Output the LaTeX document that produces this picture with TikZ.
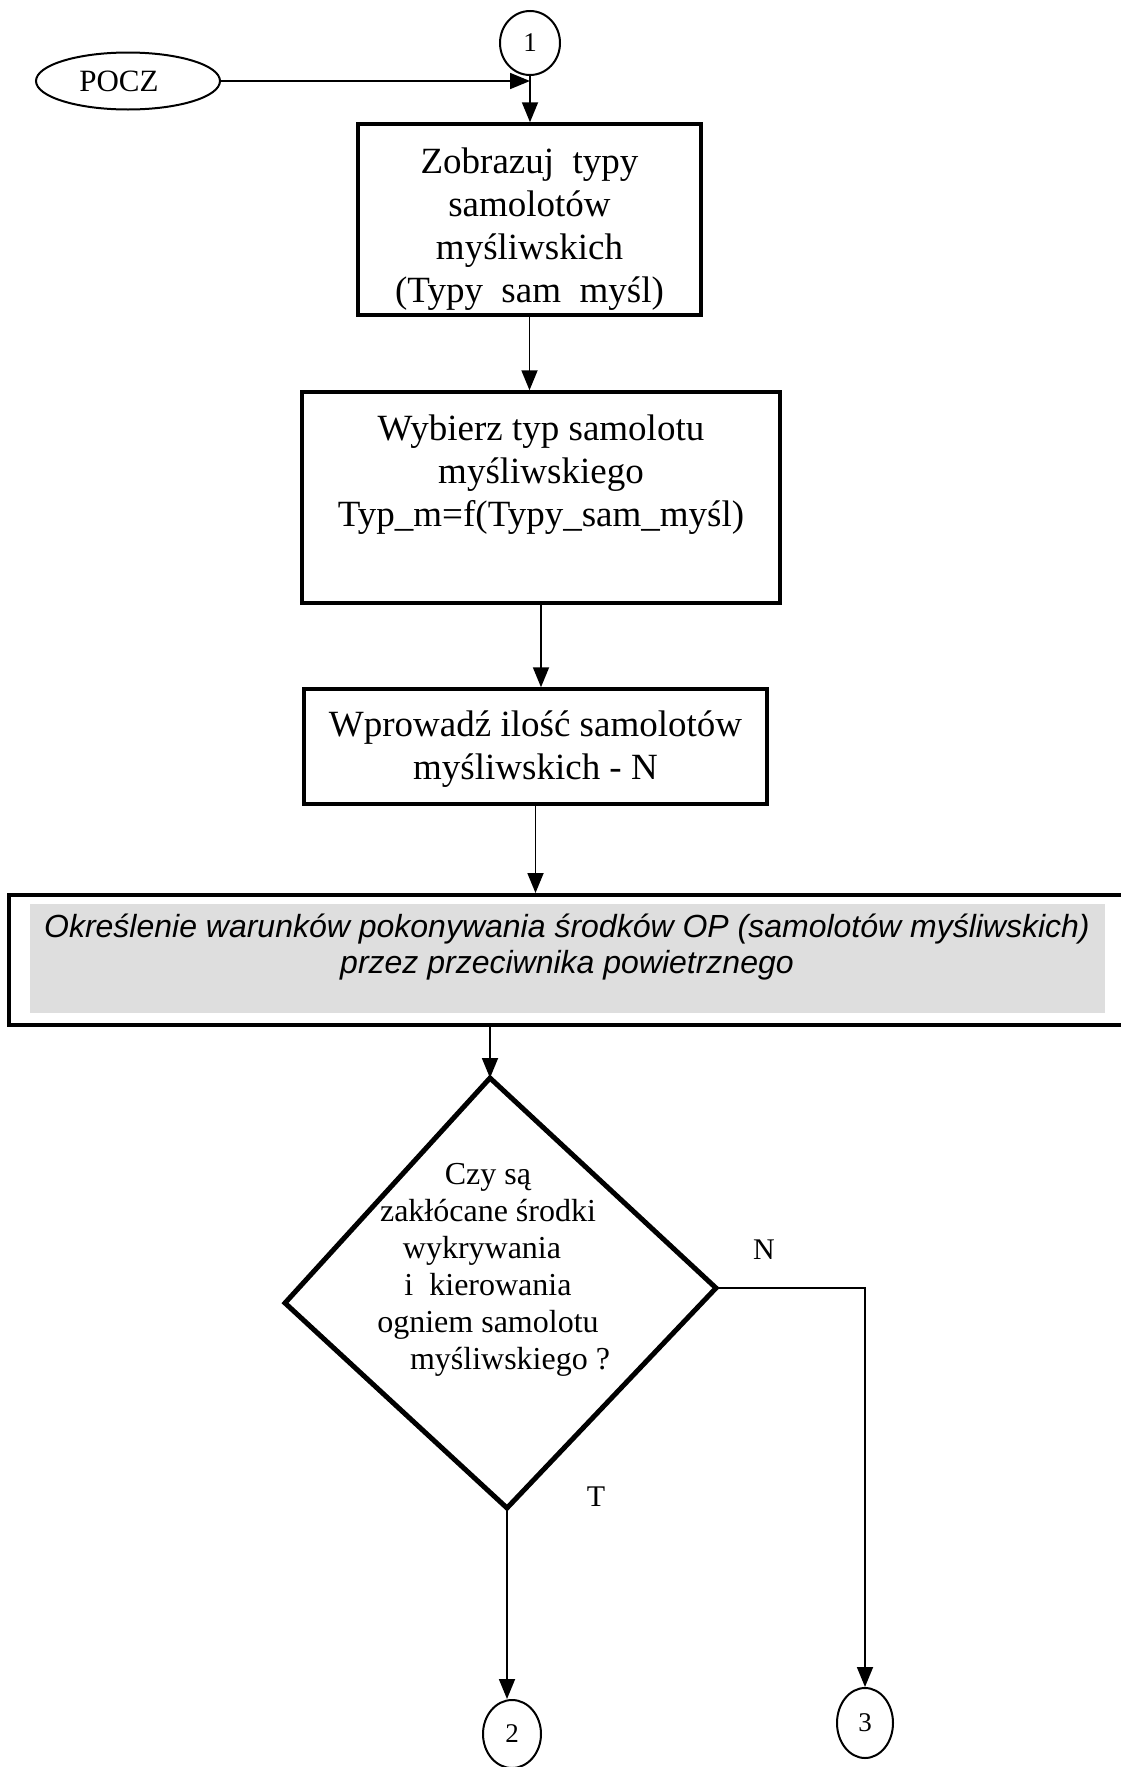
\documentclass[tikz,border=0pt]{standalone}
\usepackage{fontspec}
\setmainfont{Liberation Serif}
\newfontfamily\arialfam{Liberation Sans}
\usetikzlibrary{arrows.meta,shapes.geometric}

\begin{document}
\begin{tikzpicture}[x=1pt,y=-1pt,
  stepbox/.style={draw,line width=3.5pt,inner sep=0pt,rectangle},
  boxtext/.style={font=\fontsize{37}{43}\selectfont,align=center,inner sep=0pt},
  qtext/.style={font=\fontsize{32}{37}\selectfont,align=center,inner sep=0pt},
  label/.style={font=\fontsize{30}{34}\selectfont,inner sep=0pt},
  joint/.style={draw,ellipse,line width=2pt,inner sep=0pt,font=\fontsize{27}{30}\selectfont},
  conn/.style={line width=1.8pt,-{Triangle[width=16pt,length=20pt]}},
  wire/.style={line width=1.8pt}
]
\useasboundingbox (0,0) rectangle (1121,1767);

% start terminal and connector 1
\node[joint,minimum width=184pt,minimum height=57pt,font=\fontsize{31}{34}\selectfont] (pocz) at (128,81) {POCZ\kern18pt};
\node[joint,minimum width=60pt,minimum height=64pt] (c1) at (530,43) {1};

% process boxes
\node[stepbox,minimum width=343pt,minimum height=191pt] (b1) at (529.5,219.5) {};
\node[boxtext] (t1) at (529.5,229.5)
  {Zobrazuj\hspace{0.5em}typy\\samolotów\\myśliwskich\\(Typy\hspace{0.5em}sam\hspace{0.5em}myśl)};
\node[stepbox,minimum width=478pt,minimum height=211pt] (b2) at (541,497.5) {};
\node[boxtext] (t2) at (541,475) {Wybierz typ samolotu\\myśliwskiego\\Typ\_m=f(Typy\_sam\_myśl)};
\node[stepbox,minimum width=463pt,minimum height=115pt] (b3) at (535.5,746.5) {};
\node[boxtext] (t3) at (535.5,749.5) {Wprowadź ilość samolotów\\myśliwskich - N};

% shaded stage box
\node[stepbox,line width=4pt,minimum width=1121pt,minimum height=130pt] (g) at (569.5,960) {};
\fill[black!13] (30,904) rectangle (1105,1013);
\node[font=\arialfam\itshape\fontsize{32}{36}\selectfont,align=center,inner sep=0pt] (gt) at (567,947)
  {Określenie warunków pokonywania środków OP (samolotów myśliwskich)\\przez przeciwnika powietrznego};

% decision
\coordinate (dT) at (490,1078);
\coordinate (dR) at (716,1288);
\coordinate (dB) at (507,1508);
\coordinate (dL) at (285,1303);
\draw[line width=5pt,line join=miter] (dT) -- (dR) -- (dB) -- (dL) -- cycle;
\node[qtext] (q) at (488,1270)
  {Czy są\\zakłócane środki\\wykrywania\kern12pt\\i\hspace{0.5em}kierowania\\ogniem samolotu\\\kern44pt myśliwskiego ?};
\node[label] (ln) at (764,1250) {N};
\node[label] (lt) at (596,1497) {T};

% end connectors
\node[joint,minimum width=58pt,minimum height=68pt] (c2) at (512,1734) {2};
\node[joint,minimum width=56pt,minimum height=70pt] (c3) at (865,1723) {3};

% flow lines
\draw[conn] (pocz.east) -- (pocz.east -| c1.south);
\draw[conn] (c1.south) -- (c1.south |- b1.north);
\draw[conn] (b1.south) -- (b1.south |- b2.north);
\draw[conn] (b2.south) -- (b2.south |- b3.north);
\draw[conn] (b3.south) -- (b3.south |- g.north);
\draw[conn] (g.south -| dT) -- (dT);
\draw[conn] (dR) -- (dR -| c3.north) -- (c3.north);
\draw[conn] (dB) -- (dB |- c2.north);
\end{tikzpicture}
\end{document}
